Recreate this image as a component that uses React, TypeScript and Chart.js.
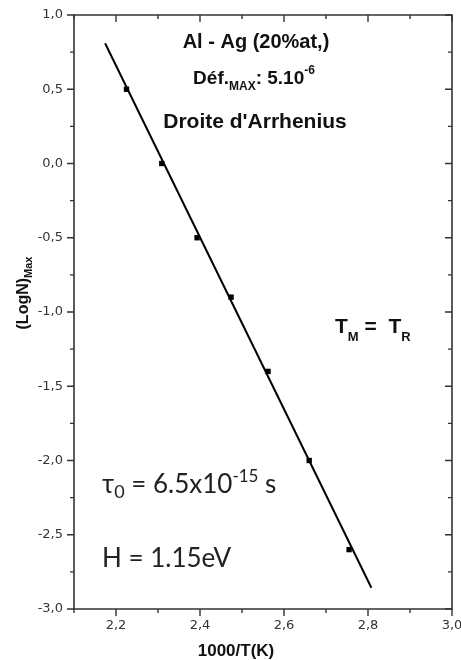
import React, { useEffect, useRef } from "react";
import { Chart, registerables } from "chart.js";

Chart.register(...registerables);

// Measured points: 1000/T(K) vs (LogN)Max
const xValues = [2.225, 2.309, 2.393, 2.474, 2.562, 2.66, 2.755];
const yValues = [0.5, 0.0, -0.5, -0.9, -1.4, -2.0, -2.6];

// Arrhenius fit line end points
const fitX = [2.174, 2.808];
const fitY = [0.81, -2.857];

// Axis ticks
const xMajorTicks = [2.2, 2.4, 2.6, 2.8, 3.0];
const xMinorTicks = [2.1, 2.3, 2.5, 2.7, 2.9];
const yMajorTicks = [-3.0, -2.5, -2.0, -1.5, -1.0, -0.5, 0.0, 0.5, 1.0];
const yMinorTicks = [-2.75, -2.25, -1.75, -1.25, -0.75, -0.25, 0.25, 0.75];

const X_MIN = 2.1;
const X_MAX = 3.0;
const Y_MIN = -3.0;
const Y_MAX = 1.0;

const fmt = (v: number) => v.toFixed(1).replace(".", ",");

type Seg = { t: string; font: string; dy?: number };

function drawRich(
  ctx: CanvasRenderingContext2D,
  x: number,
  y: number,
  segs: Seg[],
  align: "left" | "center",
  color: string
) {
  ctx.save();
  ctx.fillStyle = color;
  ctx.textBaseline = "alphabetic";
  ctx.textAlign = "left";
  let total = 0;
  const widths = segs.map((s) => {
    ctx.font = s.font;
    const w = ctx.measureText(s.t).width;
    total += w;
    return w;
  });
  let cx = align === "center" ? x - total / 2 : x;
  segs.forEach((s, i) => {
    ctx.font = s.font;
    ctx.fillText(s.t, cx, y + (s.dy || 0));
    cx += widths[i];
  });
  ctx.restore();
}

const SANS = "'Liberation Sans', Arial, sans-serif";
const CAL = "Lato, 'Open Sans', sans-serif";

const framePlugin = {
  id: "originFrame",
  afterDraw(chart: any) {
    const { ctx, chartArea, scales } = chart;
    const { left, right, top, bottom } = chartArea;
    const xs = scales.x;
    const ys = scales.y;
    const col = "#333";
    ctx.save();
    ctx.strokeStyle = col;
    ctx.lineWidth = 1.6;
    ctx.beginPath();
    ctx.rect(left, top, right - left, bottom - top);
    ctx.stroke();

    ctx.lineWidth = 1.4;
    const tickX = (v: number, len: number) => {
      const px = xs.getPixelForValue(v);
      ctx.beginPath();
      ctx.moveTo(px, bottom);
      ctx.lineTo(px, bottom + len);
      ctx.moveTo(px, top);
      ctx.lineTo(px, top + len);
      ctx.stroke();
    };
    const tickY = (v: number, len: number) => {
      const py = ys.getPixelForValue(v);
      ctx.beginPath();
      ctx.moveTo(left - len, py);
      ctx.lineTo(left, py);
      ctx.moveTo(right - len, py);
      ctx.lineTo(right, py);
      ctx.stroke();
    };
    xMajorTicks.forEach((v) => tickX(v, 7));
    xMinorTicks.forEach((v) => tickX(v, 4));
    yMajorTicks.forEach((v) => tickY(v, 7));
    yMinorTicks.forEach((v) => tickY(v, 4));
    ctx.restore();

    const dark = "#111";
    // Annotations
    drawRich(ctx, 256, 48, [{ t: "Al - Ag (20%at,)", font: `bold 20px ${SANS}` }], "center", dark);
    drawRich(
      ctx,
      254,
      84,
      [
        { t: "Déf.", font: `bold 19px ${SANS}` },
        { t: "MAX", font: `bold 12px ${SANS}`, dy: 6 },
        { t: ": 5.10", font: `bold 19px ${SANS}` },
        { t: "-6", font: `bold 12px ${SANS}`, dy: -10 },
      ],
      "center",
      dark
    );
    drawRich(ctx, 255, 128, [{ t: "Droite d'Arrhenius", font: `bold 21px ${SANS}` }], "center", dark);
    drawRich(
      ctx,
      335,
      333,
      [
        { t: "T", font: `bold 21px ${SANS}` },
        { t: "M", font: `bold 13px ${SANS}`, dy: 8 },
        { t: " =  ", font: `bold 21px ${SANS}` },
        { t: "T", font: `bold 21px ${SANS}` },
        { t: "R", font: `bold 13px ${SANS}`, dy: 8 },
      ],
      "left",
      dark
    );
    drawRich(
      ctx,
      102,
      493,
      [
        { t: "τ", font: `26px ${CAL}` },
        { t: "0", font: `18px ${CAL}`, dy: 5 },
        { t: " = 6.5x10", font: `26px ${CAL}` },
        { t: "-15", font: `17px ${CAL}`, dy: -11 },
        { t: " s", font: `26px ${CAL}` },
      ],
      "left",
      "#222"
    );
    drawRich(ctx, 102, 567, [{ t: "H = 1.15eV", font: `26px ${CAL}` }], "left", "#222");

    // Axis titles
    drawRich(ctx, 236, 656, [{ t: "1000/T(K)", font: `bold 17px ${SANS}` }], "center", dark);
    ctx.save();
    ctx.translate(28, 293);
    ctx.rotate(-Math.PI / 2);
    drawRich(
      ctx,
      0,
      0,
      [
        { t: "(LogN)", font: `bold 16px ${SANS}` },
        { t: "Max", font: `bold 11px ${SANS}`, dy: 4 },
      ],
      "center",
      dark
    );
    ctx.restore();
  },
};

export default function App() {
  const ref = useRef<HTMLCanvasElement | null>(null);
  useEffect(() => {
    if (!ref.current) return;
    const chart = new Chart(ref.current, {
      type: "scatter",
      data: {
        datasets: [
          {
            label: "fit",
            data: fitX.map((x, i) => ({ x, y: fitY[i] })),
            showLine: true,
            borderColor: "#000",
            borderWidth: 2,
            pointRadius: 0,
            fill: false,
          },
          {
            label: "data",
            data: xValues.map((x, i) => ({ x, y: yValues[i] })),
            pointStyle: "rect",
            pointRadius: 3.8,
            backgroundColor: "#000",
            borderWidth: 0,
          },
        ],
      },
      options: {
        animation: false,
        responsive: false,
        layout: { padding: { left: 0, top: 15, right: 9, bottom: 0 } },
        plugins: { legend: { display: false }, tooltip: { enabled: false } },
        scales: {
          x: {
            type: "linear",
            min: X_MIN,
            max: X_MAX,
            grid: { display: false, drawTicks: false },
            border: { display: false },
            afterBuildTicks: (s: any) => {
              s.ticks = xMajorTicks.map((v) => ({ value: v }));
            },
            afterFit: (s: any) => {
              s.height = 51;
              s.paddingLeft = 0;
              s.paddingRight = 0;
            },
            ticks: {
              autoSkip: false,
              maxRotation: 0,
              padding: 9,
              color: "#333",
              font: { family: "'DejaVu Sans'", size: 13 },
              callback: (v: any) => fmt(Number(v)),
            },
          },
          y: {
            type: "linear",
            min: Y_MIN,
            max: Y_MAX,
            grid: { display: false, drawTicks: false },
            border: { display: false },
            afterBuildTicks: (s: any) => {
              s.ticks = yMajorTicks.map((v) => ({ value: v }));
            },
            afterFit: (s: any) => {
              s.width = 74;
              s.paddingTop = 0;
              s.paddingBottom = 0;
            },
            ticks: {
              autoSkip: false,
              padding: 11,
              color: "#333",
              font: { family: "'DejaVu Sans'", size: 13 },
              callback: (v: any) => fmt(Number(v)),
            },
          },
        },
      },
      plugins: [framePlugin],
    } as any);
    return () => chart.destroy();
  }, []);
  return (
    <div style={{ position: "absolute", left: 0, top: 0, width: 461, height: 660, background: "#fff" }}>
      <canvas ref={ref} width={461} height={660} />
    </div>
  );
}
